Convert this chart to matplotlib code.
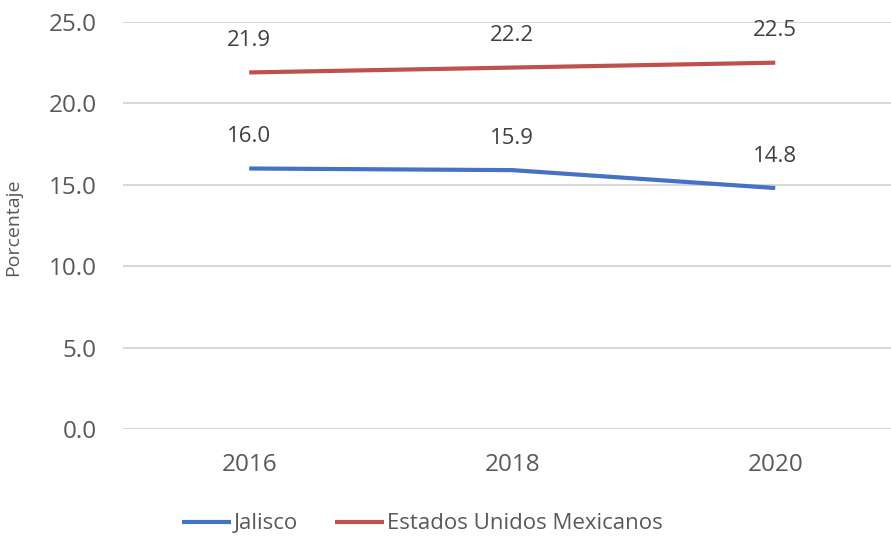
import matplotlib.pyplot as plt

years = ['2016', '2018', '2020']
jalisco = [16.0, 15.9, 14.8]
mexico = [21.9, 22.2, 22.5]

plt.rcParams['font.family'] = ['Open Sans', 'DejaVu Sans']
txt = '#595959'

fig = plt.figure(figsize=(8.91, 5.4), dpi=100)
ax = fig.add_axes([0.138, 0.2056, 0.862, 0.7537])

x = list(range(len(years)))
ax.plot(x, jalisco, color='#4472C4', lw=3, label='Jalisco', solid_capstyle='butt')
ax.plot(x, mexico, color='#C0504D', lw=3, label='Estados Unidos Mexicanos', solid_capstyle='butt')

for xi, v in zip(x, jalisco):
    ax.annotate(f'{v:.1f}', (xi, v), xytext=(0, 23), textcoords='offset points',
                ha='center', va='center', fontsize=16, color='#404040')
for xi, v in zip(x, mexico):
    ax.annotate(f'{v:.1f}', (xi, v), xytext=(0, 23), textcoords='offset points',
                ha='center', va='center', fontsize=16, color='#404040')

ax.set_ylim(0, 25)
ax.set_xlim(-0.48, 2.44)
ax.set_yticks([0, 5, 10, 15, 20, 25])
ax.set_yticklabels([f'{t:.1f}' for t in [0, 5, 10, 15, 20, 25]])
ax.set_xticks(x)
ax.set_xticklabels(years)
ax.grid(axis='y', color='#D9D9D9', lw=1.5)
ax.set_axisbelow(True)
for s in ax.spines.values():
    s.set_visible(False)
ax.tick_params(length=0, labelsize=17.5, colors=txt)
ax.tick_params(axis='y', pad=19)
ax.tick_params(axis='x', pad=17)
ax.set_ylabel('Porcentaje', fontsize=14, color=txt)
ax.yaxis.set_label_coords(-0.131, 0.496)

fig.legend(loc='center', bbox_to_anchor=(0.474, 0.03), ncol=2, frameon=False,
           fontsize=16, labelcolor=txt, handlelength=2.2, handletextpad=0.1,
           columnspacing=1.7)

fig.savefig('out.png', dpi=100)
